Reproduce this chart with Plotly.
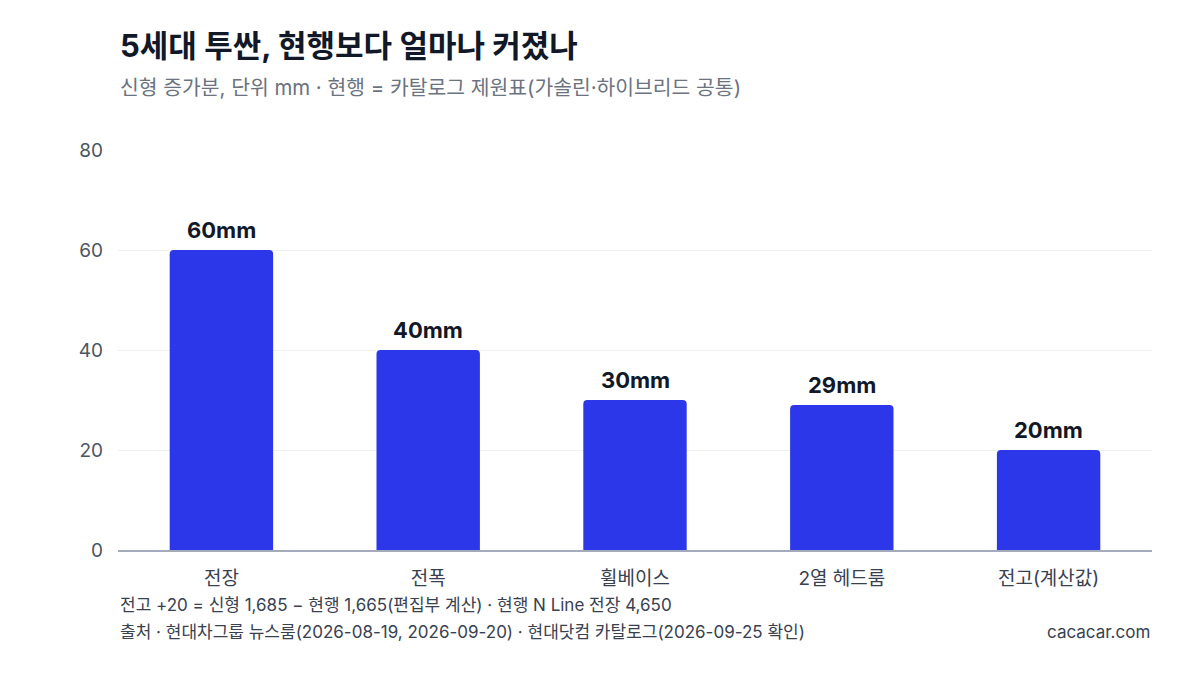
import plotly.graph_objects as go

categories = ["전장", "전폭", "휠베이스", "2열 헤드룸", "전고(계산값)"]
increase_mm = [60, 40, 30, 29, 20]
y_ticks = [0, 20, 40, 60, 80]

TITLE = "5세대 투싼, 현행보다 얼마나 커졌나"
SUBTITLE = "신형 증가분, 단위 mm · 현행 = 카탈로그 제원표(가솔린·하이브리드 공통)"
NOTE = "전고 +20 = 신형 1,685 − 현행 1,665(편집부 계산) · 현행 N Line 전장 4,650"
SOURCE = "출처 · 현대차그룹 뉴스룸(2026-08-19, 2026-09-20) · 현대닷컴 카탈로그(2026-09-25 확인)"
BRAND = "cacacar.com"

FONT = "Inter, Noto Sans CJK KR, sans-serif"

# page body has an 8px margin, so the figure is drawn a bit smaller
PAGE_OFF = 8
PLOT_L, PLOT_R, PLOT_T, PLOT_B = 118, 1152, 150, 550
FIG_W, FIG_H = 1200 - 2 * PAGE_OFF, 675 - 2 * PAGE_OFF

fig = go.Figure()
fig.add_trace(go.Bar(
    x=categories,
    y=increase_mm,
    marker=dict(color="#2B37E8", line=dict(width=0)),
    hoverinfo="skip",
))

# value labels above each bar
for cat, v in zip(categories, increase_mm):
    fig.add_annotation(
        x=cat, y=v, text=f"<b>{v}mm</b>", showarrow=False,
        yanchor="bottom", yshift=5,
        font=dict(family=FONT, size=22, color="#111827"),
    )

fig.update_layout(
    width=FIG_W,
    height=FIG_H,
    margin=dict(
        l=PLOT_L - PAGE_OFF,
        r=FIG_W - (PLOT_R - PAGE_OFF),
        t=PLOT_T - PAGE_OFF,
        b=FIG_H - (PLOT_B - PAGE_OFF),
    ),
    paper_bgcolor="white",
    plot_bgcolor="white",
    bargap=0.5,
    barcornerradius=4,
    showlegend=False,
    font=dict(family=FONT, color="#4b5563"),
)
fig.update_xaxes(
    tickfont=dict(size=19, color="#374151"),
    showline=True, linecolor="#a3abbb", linewidth=1.5,
    ticks="", showgrid=False, ticklabelstandoff=10,
)
fig.update_yaxes(
    range=[0, 80], tickvals=y_ticks,
    tickfont=dict(size=19, color="#4b5563"),
    showgrid=True, gridcolor="#eef0f4", gridwidth=1,
    zeroline=False, showline=False, ticks="", ticklabelstandoff=14,
)

annotations = [
    dict(text=f"<b>{TITLE}</b>", x=118, y=45, size=31, color="#111827", anchor="left"),
    dict(text=SUBTITLE, x=118, y=88, size=20.4, color="#6b7280", anchor="left"),
    dict(text=NOTE, x=118, y=605, size=17, color="#374151", anchor="left"),
    dict(text=SOURCE, x=118, y=632, size=17, color="#374151", anchor="left"),
    dict(text=BRAND, x=1152, y=632, size=17, color="#374151", anchor="right"),
]
for a in annotations:
    fig.add_annotation(
        text=a["text"], xref="paper", yref="paper",
        x=(a["x"] - PLOT_L) / (PLOT_R - PLOT_L),
        y=1 - (a["y"] - PLOT_T) / (PLOT_B - PLOT_T),
        xanchor=a["anchor"], yanchor="middle", showarrow=False,
        font=dict(family=FONT, size=a["size"], color=a["color"]),
    )

fig.write_html("out.html")
